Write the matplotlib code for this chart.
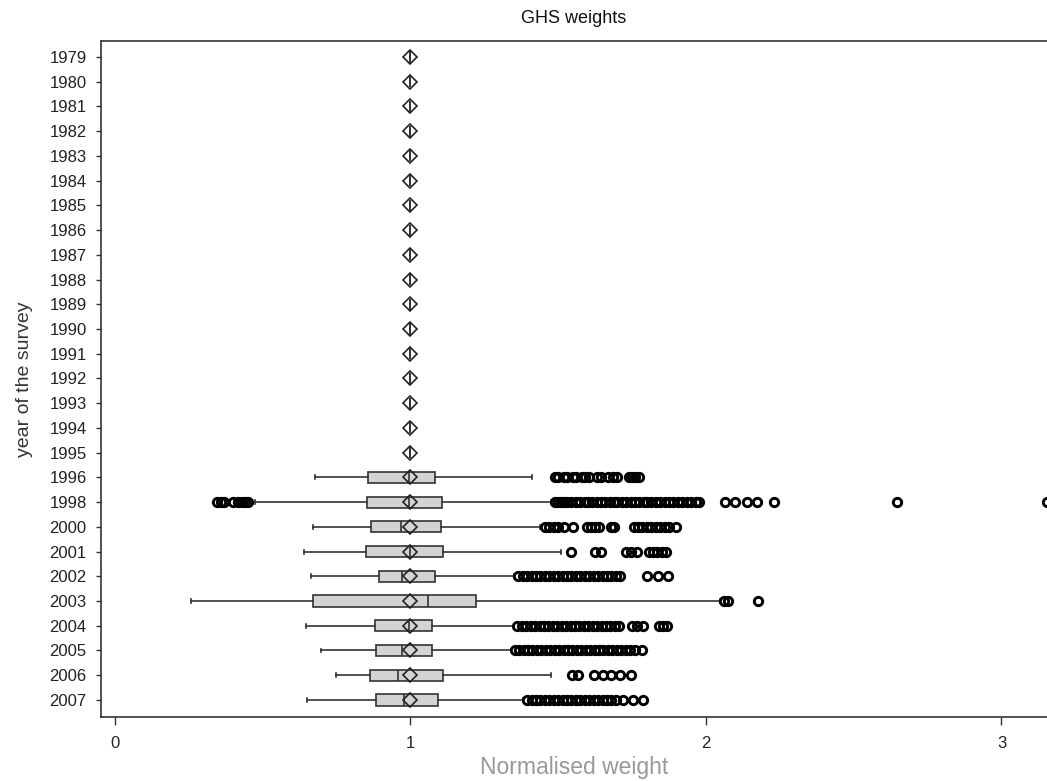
import matplotlib
matplotlib.use("Agg")
import matplotlib.pyplot as plt

plt.rcParams['font.family'] = ['Liberation Sans', 'DejaVu Sans']

# ---------------- data ----------------
years = ['1979', '1980', '1981', '1982', '1983', '1984', '1985', '1986', '1987',
         '1988', '1989', '1990', '1991', '1992', '1993', '1994', '1995',
         '1996', '1998', '2000', '2001', '2002', '2003', '2004', '2005',
         '2006', '2007']

# statistics for the years with varying weights (1996 .. 2007)
whislo = [0.677, 0.474, 0.669, 0.641, 0.663, 0.259, 0.646, 0.696, 0.748, 0.650]
q1     = [0.857, 0.852, 0.865, 0.848, 0.895, 0.672, 0.880, 0.884, 0.862, 0.884]
median = [0.995, 0.995, 0.968, 0.998, 0.972, 1.060, 0.995, 0.972, 0.959, 0.977]
q3     = [1.083, 1.108, 1.102, 1.111, 1.083, 1.222, 1.074, 1.074, 1.111, 1.093]
whishi = [1.413, 1.475, 1.440, 1.511, 1.350, 2.047, 1.350, 1.340, 1.474, 1.380]
means  = [1.0, 1.0, 1.0, 1.0, 1.0, 1.0, 1.0, 1.0, 1.0, 1.0]

out_1996 = [1.49, 1.50, 1.52, 1.53, 1.55, 1.56, 1.58, 1.59, 1.605, 1.63, 1.645,
            1.67, 1.685, 1.70, 1.74, 1.75, 1.76, 1.775]
out_1998 = [0.347, 0.36, 0.37, 0.40, 0.415, 0.43, 0.44, 0.452,
            1.49, 1.50, 1.51, 1.52, 1.53, 1.545, 1.56, 1.575, 1.59, 1.60, 1.615,
            1.63, 1.645, 1.66, 1.675, 1.69, 1.70, 1.715, 1.73, 1.745, 1.76,
            1.775, 1.79, 1.80, 1.815, 1.83, 1.845, 1.86, 1.875, 1.89, 1.905,
            1.92, 1.935, 1.95, 1.965, 1.977,
            2.064, 2.098, 2.138, 2.172, 2.23, 2.645, 3.153]
out_2000 = [1.455, 1.47, 1.485, 1.50, 1.52, 1.551, 1.598, 1.61, 1.625, 1.637,
            1.678, 1.69, 1.756, 1.77, 1.785, 1.80, 1.815, 1.83, 1.845, 1.86,
            1.875, 1.898]
out_2001 = [1.542, 1.625, 1.645, 1.729, 1.745, 1.768, 1.807, 1.82, 1.835,
            1.85, 1.865]
out_2002 = [1.365, 1.38, 1.395, 1.41, 1.425, 1.44, 1.455, 1.47, 1.485, 1.50,
            1.515, 1.53, 1.545, 1.56, 1.575, 1.59, 1.605, 1.62, 1.635, 1.65,
            1.665, 1.68, 1.695, 1.71, 1.80, 1.838, 1.872]
out_2003 = [2.06, 2.075, 2.177]
out_2004 = [1.362, 1.377, 1.392, 1.407, 1.422, 1.437, 1.452, 1.467, 1.482,
            1.497, 1.512, 1.527, 1.542, 1.557, 1.572, 1.587, 1.602, 1.617,
            1.632, 1.647, 1.662, 1.677, 1.692, 1.706, 1.751, 1.768, 1.786,
            1.841, 1.855, 1.867]
out_2005 = [1.353, 1.368, 1.383, 1.398, 1.413, 1.428, 1.443, 1.458, 1.473,
            1.488, 1.503, 1.518, 1.533, 1.548, 1.563, 1.578, 1.593, 1.608,
            1.623, 1.638, 1.653, 1.668, 1.683, 1.698, 1.713, 1.728, 1.743,
            1.76, 1.785]
out_2006 = [1.548, 1.566, 1.62, 1.65, 1.68, 1.71, 1.746]
out_2007 = [1.395, 1.41, 1.425, 1.44, 1.455, 1.47, 1.485, 1.50, 1.515, 1.53,
            1.545, 1.56, 1.575, 1.59, 1.605, 1.62, 1.635, 1.65, 1.665, 1.68,
            1.695, 1.718, 1.752, 1.786]
outliers = [out_1996, out_1998, out_2000, out_2001, out_2002, out_2003,
            out_2004, out_2005, out_2006, out_2007]

constant_weight = 1.0   # 1979-1995: every weight equals 1
n_constant = 17

# ---------------- build stats ----------------
stats = []
for i in range(n_constant):
    stats.append(dict(med=constant_weight, q1=constant_weight, q3=constant_weight,
                      whislo=constant_weight, whishi=constant_weight,
                      mean=constant_weight, fliers=[], label=years[i]))
for j in range(len(whislo)):
    stats.append(dict(med=median[j], q1=q1[j], q3=q3[j], whislo=whislo[j],
                      whishi=whishi[j], mean=means[j], fliers=outliers[j],
                      label=years[n_constant + j]))

# ---------------- plot ----------------
W, H = 1047, 781
fig = plt.figure(figsize=(W / 100, H / 100), dpi=100)
ax = fig.add_axes([101 / W, (H - 717) / H, 1 - 101 / W, (717 - 41.5) / H])

line_col = '#333333'
positions = list(range(len(years)))
ax.bxp(stats, positions=positions, widths=0.45, orientation='horizontal',
       patch_artist=True, showmeans=True, showfliers=True, capwidths=0.16,
       boxprops=dict(facecolor='#d3d3d3', edgecolor=line_col, linewidth=1.2),
       whiskerprops=dict(color=line_col, linewidth=1.2),
       capprops=dict(color=line_col, linewidth=1.2),
       medianprops=dict(color=line_col, linewidth=1.2),
       meanprops=dict(marker='D', markerfacecolor='none',
                      markeredgecolor='#222222', markersize=7.4,
                      markeredgewidth=1.2),
       flierprops=dict(marker='o', markerfacecolor='none',
                       markeredgecolor='black', markersize=6.0,
                       markeredgewidth=2.1))

ax.set_xlim(-0.047, 3.154)
ax.set_ylim(26.69, -0.627)
ax.set_xticks([0, 1, 2, 3])
ax.set_xticklabels(['0', '1', '2', '3'])
ax.set_yticks(positions)
ax.set_yticklabels(years)

ax.spines['right'].set_visible(False)
for s in ['left', 'top', 'bottom']:
    ax.spines[s].set_color('#333333')
    ax.spines[s].set_linewidth(1.2)

ax.tick_params(axis='y', direction='out', length=3.8, width=1, color='#333333',
               labelsize=12, labelcolor='#222222', pad=6.5)
ax.tick_params(axis='x', direction='out', length=6, width=1, color='#333333',
               labelsize=12, labelcolor='#222222', pad=8)

ax.set_title('GHS weights', fontsize=13, color='#111111', pad=13)
ax.set_xlabel('Normalised weight', fontsize=16.5, color='#999999', labelpad=3)
ax.set_ylabel('year of the survey', fontsize=14, color='#333333', labelpad=12)

fig.savefig('out.png', dpi=100)
